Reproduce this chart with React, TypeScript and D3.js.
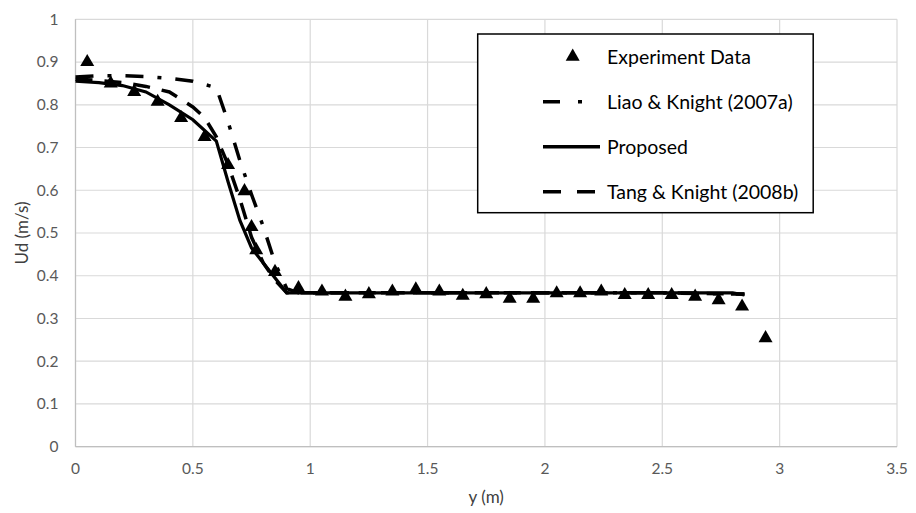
import * as d3 from "d3";

// experiment points
const expY = [0.05, 0.15, 0.25, 0.35, 0.45, 0.55, 0.65, 0.72, 0.75, 0.77, 0.85, 0.95, 1.05, 1.15, 1.25, 1.35, 1.45, 1.55, 1.65, 1.75, 1.85, 1.95, 2.05, 2.15, 2.24, 2.34, 2.44, 2.54, 2.64, 2.74, 2.84, 2.94];
const expUd = [0.9, 0.85, 0.83, 0.807, 0.769, 0.725, 0.659, 0.598, 0.514, 0.46, 0.409, 0.371, 0.363, 0.351, 0.357, 0.363, 0.368, 0.363, 0.353, 0.357, 0.346, 0.346, 0.359, 0.359, 0.363, 0.355, 0.355, 0.355, 0.351, 0.343, 0.328, 0.254];

// Liao & Knight (2007a)
const liaoY = [0, 0.1, 0.2, 0.3, 0.4, 0.5, 0.6, 0.65, 0.7, 0.75, 0.8, 0.85, 0.9, 0.95, 1.5, 2.0, 2.5, 2.85];
const liaoUd = [0.865, 0.868, 0.868, 0.866, 0.862, 0.855, 0.84, 0.76, 0.67, 0.59, 0.515, 0.43, 0.37, 0.36, 0.36, 0.36, 0.36, 0.357];

// Proposed
const propY = [0, 0.1, 0.2, 0.3, 0.4, 0.5, 0.6, 0.65, 0.7, 0.75, 0.8, 0.9, 1.0, 1.5, 2.0, 2.5, 2.8, 2.85];
const propUd = [0.855, 0.852, 0.845, 0.83, 0.8, 0.765, 0.715, 0.62, 0.53, 0.465, 0.43, 0.36, 0.36, 0.36, 0.36, 0.36, 0.36, 0.355];

// Tang & Knight (2008b)
const tangY = [0, 0.1, 0.2, 0.3, 0.4, 0.5, 0.55, 0.6, 0.65, 0.7, 0.75, 0.8, 0.85, 0.9, 1.5, 2.0, 2.5, 2.85];
const tangUd = [0.86, 0.857, 0.852, 0.843, 0.83, 0.795, 0.77, 0.725, 0.66, 0.58, 0.49, 0.43, 0.39, 0.36, 0.36, 0.36, 0.36, 0.357];

const xTicks = [0, 0.5, 1, 1.5, 2, 2.5, 3, 3.5];
const yTicks = [0, 0.1, 0.2, 0.3, 0.4, 0.5, 0.6, 0.7, 0.8, 0.9, 1];

const W = 916;
const H = 513;
const m = { left: 75.5, right: 19, top: 19.3, bottom: 66.3 };
const font = "Lato, 'Open Sans', sans-serif";

export default function App() {
  const x = d3.scaleLinear().domain([0, 3.5]).range([m.left, W - m.right]);
  const y = d3.scaleLinear().domain([0, 1]).range([H - m.bottom, m.top]);

  const line = d3
    .line<[number, number]>()
    .x((d) => x(d[0]))
    .y((d) => y(d[1]));

  const liao = line(liaoY.map((v, i) => [v, liaoUd[i]]) as [number, number][]) || "";
  const prop = line(propY.map((v, i) => [v, propUd[i]]) as [number, number][]) || "";
  const tang = line(tangY.map((v, i) => [v, tangUd[i]]) as [number, number][]) || "";
  const tri = d3.symbol(d3.symbolTriangle, 85)() || "";

  const legendRows = [
    { label: "Experiment Data", kind: "tri" },
    { label: "Liao & Knight (2007a)", kind: "liao" },
    { label: "Proposed", kind: "prop" },
    { label: "Tang & Knight (2008b)", kind: "tang" },
  ];
  const legRowY = [56.7, 101.7, 146.7, 191.7];

  return (
    <svg
      width={W}
      height={H}
      style={{ position: "absolute", left: 0, top: 0, background: "#fff" }}
      fontFamily={font}
    >
      <rect width={W} height={H} fill="#fff" />
      {/* grid */}
      {yTicks.map((t) => (
        <line key={"gy" + t} x1={x(0)} x2={x(3.5)} y1={y(t)} y2={y(t)} stroke="#d9d9d9" strokeWidth={1.2} />
      ))}
      {xTicks.map((t) => (
        <line key={"gx" + t} x1={x(t)} x2={x(t)} y1={y(0)} y2={y(1)} stroke="#d9d9d9" strokeWidth={1.2} />
      ))}
      <line x1={x(0)} x2={x(3.5)} y1={y(0)} y2={y(0)} stroke="#bfbfbf" strokeWidth={1.2} />
      <line x1={x(0)} x2={x(0)} y1={y(0)} y2={y(1)} stroke="#bfbfbf" strokeWidth={1.2} />

      {/* tick labels */}
      {yTicks.map((t) => (
        <text key={"ty" + t} x={m.left - 17} y={y(t)} dy="0.35em" textAnchor="end" fontSize={15.5} fill="#595959">
          {String(t)}
        </text>
      ))}
      {xTicks.map((t) => (
        <text key={"tx" + t} x={x(t)} y={469} dy="0.35em" textAnchor="middle" fontSize={15.5} fill="#595959">
          {String(t)}
        </text>
      ))}
      <text x={(x(0) + x(3.5)) / 2} y={497} dy="0.35em" textAnchor="middle" fontSize={17} fill="#404040">
        y (m)
      </text>
      <text
        transform={`translate(22,${(y(0) + y(1)) / 2}) rotate(-90)`}
        dy="0.35em"
        textAnchor="middle"
        fontSize={17}
        fill="#404040"
      >
        Ud (m/s)
      </text>

      {/* series */}
      <path d={tang} fill="none" stroke="#000" strokeWidth={3.5} strokeDasharray="17,12" />
      <path d={liao} fill="none" stroke="#000" strokeWidth={3.5} strokeDasharray="18,14,4,14" />
      <path d={prop} fill="none" stroke="#000" strokeWidth={3.2} />
      {expY.map((v, i) => (
        <path key={"e" + i} d={tri} transform={`translate(${x(v)},${y(expUd[i])})`} fill="#000" />
      ))}

      {/* legend */}
      <rect x={477.7} y={34} width={335.5} height={178.7} fill="#fff" stroke="#000" strokeWidth={1.5} />
      {legendRows.map((r, i) => {
        const cy = legRowY[i];
        return (
          <g key={r.label}>
            {r.kind === "tri" && <path d={tri} transform={`translate(572.7,${cy})`} fill="#000" />}
            {r.kind === "liao" && (
              <line x1={543} x2={600} y1={cy} y2={cy} stroke="#000" strokeWidth={3.5} strokeDasharray="17,18,4,30" />
            )}
            {r.kind === "prop" && <line x1={543} x2={600} y1={cy} y2={cy} stroke="#000" strokeWidth={3.5} />}
            {r.kind === "tang" && (
              <line x1={543} x2={600} y1={cy} y2={cy} stroke="#000" strokeWidth={3.5} strokeDasharray="18,16" />
            )}
            <text x={607} y={cy} dy="0.35em" fontSize={19.5} fill="#000">
              {r.label}
            </text>
          </g>
        );
      })}
    </svg>
  );
}
